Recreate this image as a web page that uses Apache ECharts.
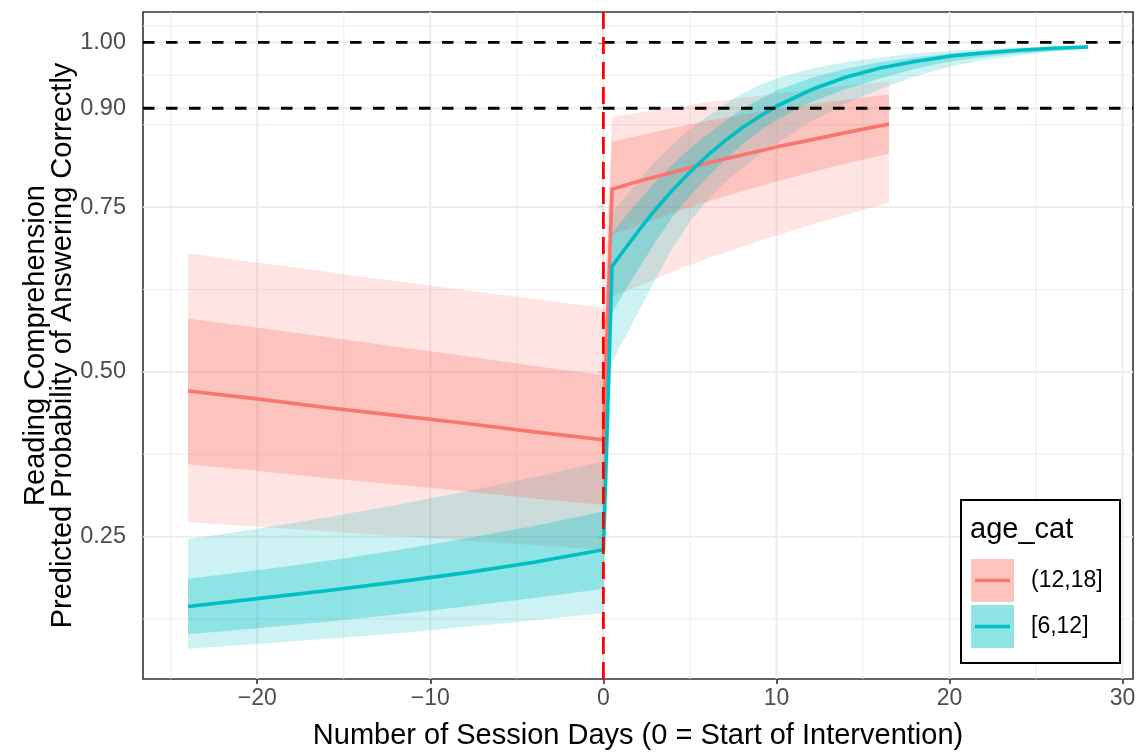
<!DOCTYPE html>
<html>
<head>
<meta charset="utf-8">
<script src="https://cdn.jsdelivr.net/npm/echarts@6/dist/echarts.min.js"></script>
<style>
  html, body { margin: 0; padding: 0; background: #ffffff; }
  #chart { width: 1143px; height: 753px; }
</style>
</head>
<body>
<div id="chart"></div>
<script>
const FONT = '"Liberation Sans", Arial, Helvetica, sans-serif';

// Group (12,18]: session day, fitted probability, inner and outer intervals
const daysOlder = [-24, -20, -16, -12, -8, -4, 0, 0.5, 2, 4, 6, 8, 10, 12, 14, 16.5];
const fitOlder  = [0.471, 0.459, 0.446, 0.434, 0.422, 0.409, 0.397, 0.777, 0.789, 0.803, 0.817, 0.829, 0.841, 0.852, 0.863, 0.876];
const innerLoOlder = [0.360, 0.350, 0.339, 0.329, 0.319, 0.308, 0.298, 0.708, 0.722, 0.741, 0.758, 0.774, 0.789, 0.803, 0.816, 0.831];
const innerHiOlder = [0.581, 0.567, 0.553, 0.538, 0.524, 0.509, 0.495, 0.849, 0.858, 0.870, 0.881, 0.890, 0.899, 0.906, 0.913, 0.921];
const outerLoOlder = [0.272, 0.265, 0.258, 0.251, 0.244, 0.237, 0.230, 0.614, 0.630, 0.652, 0.672, 0.690, 0.707, 0.723, 0.738, 0.757];
const outerHiOlder = [0.680, 0.666, 0.652, 0.638, 0.624, 0.611, 0.597, 0.887, 0.893, 0.901, 0.909, 0.916, 0.922, 0.928, 0.934, 0.941];

// Group [6,12]
const daysYounger = [-24, -20, -16, -12, -8, -4, 0, 0.5, 1, 2, 3, 4, 5, 6, 7, 8, 9, 10, 12, 14, 16, 18, 20, 22, 24, 26, 28];
const fitYounger  = [0.144, 0.156, 0.168, 0.181, 0.195, 0.211, 0.230, 0.660, 0.678, 0.713, 0.746, 0.776, 0.803, 0.828, 0.850, 0.870, 0.887, 0.903, 0.928, 0.947, 0.961, 0.971, 0.979, 0.984, 0.988, 0.991, 0.993];
const innerLoYounger = [0.102, 0.111, 0.121, 0.132, 0.144, 0.157, 0.171, 0.589, 0.612, 0.655, 0.697, 0.735, 0.767, 0.795, 0.821, 0.845, 0.865, 0.882, 0.909, 0.929, 0.945, 0.960, 0.971, 0.978, 0.983, 0.987, 0.991];
const innerHiYounger = [0.186, 0.199, 0.213, 0.229, 0.247, 0.266, 0.288, 0.710, 0.727, 0.758, 0.788, 0.815, 0.839, 0.860, 0.880, 0.898, 0.913, 0.927, 0.946, 0.960, 0.970, 0.977, 0.983, 0.987, 0.990, 0.993, 0.995];
const outerLoYounger = [0.080, 0.087, 0.095, 0.103, 0.113, 0.123, 0.134, 0.514, 0.540, 0.590, 0.640, 0.688, 0.728, 0.760, 0.787, 0.809, 0.829, 0.846, 0.880, 0.907, 0.929, 0.948, 0.963, 0.973, 0.980, 0.986, 0.990];
const outerHiYounger = [0.246, 0.262, 0.279, 0.298, 0.318, 0.340, 0.364, 0.743, 0.758, 0.790, 0.819, 0.845, 0.868, 0.888, 0.906, 0.922, 0.935, 0.945, 0.960, 0.970, 0.977, 0.983, 0.987, 0.990, 0.992, 0.994, 0.996];

const groupNames = ['(12,18]', '[6,12]'];
const legendTitle = 'age_cat';
const xTitle = 'Number of Session Days (0 = Start of Intervention)';
const yTitle = 'Reading Comprehension\nPredicted Probability of Answering Correctly';

// Axis breaks and reference lines
const xTicks = [-20, -10, 0, 10, 20, 30];
const xMinor = [-25, -15, -5, 5, 15, 25];
const yTicks = [0.25, 0.50, 0.75, 0.90, 1.00];
const yMinor = [0.125, 0.375, 0.625, 0.875, 0.95, 1.025];
const refY = [0.90, 1.00];
const refX = [0];

const X_MIN = -26.6, X_MAX = 30.6;
const Y_MIN = 0.034, Y_MAX = 1.046;

const RED = '#F8766D';
const TEAL = '#00BFC4';

function vLines(values, stroke, width, dash, z) {
  return {
    type: 'custom', z: z, silent: true, clip: false,
    data: values.map(v => [v, Y_MIN]),
    renderItem: (params, api) => {
      const cs = params.coordSys;
      const x = api.coord([api.value(0), Y_MIN])[0];
      return { type: 'line', shape: { x1: x, y1: cs.y, x2: x, y2: cs.y + cs.height },
               style: { stroke: stroke, lineWidth: width, lineDash: dash || null } };
    }
  };
}
function hLines(values, stroke, width, dash, z) {
  return {
    type: 'custom', z: z, silent: true, clip: false,
    data: values.map(v => [X_MIN, v]),
    renderItem: (params, api) => {
      const cs = params.coordSys;
      const y = api.coord([X_MIN, api.value(1)])[1];
      return { type: 'line', shape: { x1: cs.x, y1: y, x2: cs.x + cs.width, y2: y },
               style: { stroke: stroke, lineWidth: width, lineDash: dash || null } };
    }
  };
}
function ribbon(xs, lo, hi, fill, z) {
  return {
    type: 'custom', z: z, silent: true,
    data: [[xs[0], lo[0]]],
    renderItem: (params, api) => {
      const pts = [];
      for (let i = 0; i < xs.length; i++) pts.push(api.coord([xs[i], hi[i]]));
      for (let i = xs.length - 1; i >= 0; i--) pts.push(api.coord([xs[i], lo[i]]));
      return { type: 'polygon', shape: { points: pts }, style: { fill: fill } };
    }
  };
}
function fitLine(name, xs, ys, color, z) {
  return {
    name: name, type: 'line', z: z, silent: true,
    data: xs.map((x, i) => [x, ys[i]]),
    showSymbol: false, symbol: 'none',
    lineStyle: { color: color, width: 3.6, cap: 'butt', join: 'round' }
  };
}

const chart = echarts.init(document.getElementById('chart'), null, { renderer: 'canvas' });

chart.setOption({
  animation: false,
  backgroundColor: '#ffffff',
  textStyle: { fontFamily: FONT },
  grid: {
    left: 143, right: 10, top: 12, bottom: 74,
    show: true, borderColor: '#333333', borderWidth: 1.6, backgroundColor: 'transparent',
    containLabel: false, outerBoundsMode: 'none'
  },
  xAxis: {
    type: 'value', min: X_MIN, max: X_MAX,
    axisLine: { show: false },
    splitLine: { show: false },
    axisTick: { show: true, customValues: xTicks, length: 5, lineStyle: { color: '#333333', width: 1.6 } },
    axisLabel: {
      customValues: xTicks, margin: 8, color: '#4D4D4D', fontSize: 23, fontFamily: FONT,
      formatter: v => String(v).replace('-', '\u2212')
    },
    name: xTitle, nameLocation: 'middle', nameGap: 42, nameMoveOverlap: false,
    nameTextStyle: { fontSize: 29, color: '#000000', fontFamily: FONT }
  },
  yAxis: {
    type: 'value', min: Y_MIN, max: Y_MAX,
    axisLine: { show: false },
    splitLine: { show: false },
    axisTick: { show: true, customValues: yTicks, length: 5, lineStyle: { color: '#333333', width: 1.6 } },
    axisLabel: {
      customValues: yTicks, margin: 17, color: '#4D4D4D', fontSize: 23.5, fontFamily: FONT,
      formatter: v => v.toFixed(2)
    },
    name: yTitle, nameLocation: 'middle', nameRotate: 90, nameGap: 67, nameMoveOverlap: false,
    nameTextStyle: { fontSize: 29, color: '#000000', fontFamily: FONT, lineHeight: 27, align: 'center' }
  },
  series: [
    vLines(xMinor, '#EBEBEB', 0.9, null, 1),
    hLines(yMinor, '#EBEBEB', 0.9, null, 1),
    vLines(xTicks, '#EBEBEB', 1.8, null, 1),
    hLines(yTicks, '#EBEBEB', 1.8, null, 1),
    ribbon(daysOlder, outerLoOlder, outerHiOlder, 'rgba(248,118,109,0.2)', 2),
    ribbon(daysYounger, outerLoYounger, outerHiYounger, 'rgba(0,191,196,0.2)', 2),
    ribbon(daysOlder, innerLoOlder, innerHiOlder, 'rgba(248,118,109,0.3)', 3),
    ribbon(daysYounger, innerLoYounger, innerHiYounger, 'rgba(0,191,196,0.3)', 3),
    fitLine(groupNames[0], daysOlder, fitOlder, RED, 4),
    fitLine(groupNames[1], daysYounger, fitYounger, TEAL, 4),
    hLines(refY, '#000000', 2.8, [11.5, 11.5], 5),
    vLines(refX, '#FF0000', 2.8, [17, 8], 5)
  ],
  graphic: [
    { type: 'rect', z: 10, shape: { x: 961, y: 500, width: 159, height: 163 },
      style: { fill: '#ffffff', stroke: '#000000', lineWidth: 2 } },
    { type: 'text', z: 11, x: 970, y: 530,
      style: { text: legendTitle, fontSize: 29, fontFamily: FONT, fill: '#000000', verticalAlign: 'middle', align: 'left' } },
    { type: 'rect', z: 11, shape: { x: 971, y: 559, width: 43, height: 43 },
      style: { fill: 'rgba(248,118,109,0.44)' } },
    { type: 'line', z: 12, shape: { x1: 975, y1: 580.5, x2: 1010, y2: 580.5 },
      style: { stroke: RED, lineWidth: 3.6 } },
    { type: 'rect', z: 11, shape: { x: 971, y: 605, width: 43, height: 43 },
      style: { fill: 'rgba(0,191,196,0.44)' } },
    { type: 'line', z: 12, shape: { x1: 975, y1: 626.5, x2: 1010, y2: 626.5 },
      style: { stroke: TEAL, lineWidth: 3.6 } },
    { type: 'text', z: 11, x: 1031, y: 581,
      style: { text: groupNames[0], fontSize: 23, fontFamily: FONT, fill: '#000000', verticalAlign: 'middle', align: 'left' } },
    { type: 'text', z: 11, x: 1031, y: 627,
      style: { text: groupNames[1], fontSize: 23, fontFamily: FONT, fill: '#000000', verticalAlign: 'middle', align: 'left' } }
  ]
});
</script>
</body>
</html>
